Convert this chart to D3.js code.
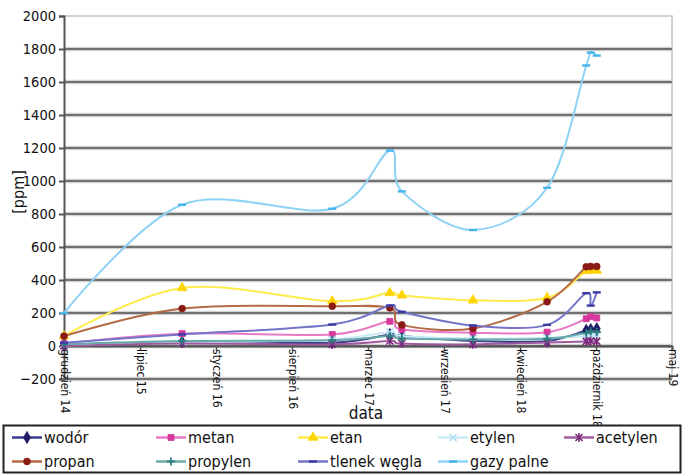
<!DOCTYPE html>
<html>
<head>
<meta charset="utf-8">
<script src="https://cdn.jsdelivr.net/npm/d3@7"></script>
<style>
  html, body { margin: 0; padding: 0; background: #fff; }
  svg { display: block; }
  text { font-family: "DejaVu Sans", sans-serif; font-stretch: condensed; fill: #111; }
</style>
</head>
<body>
<svg id="chart" width="684" height="475"></svg>
<script>
// Measurement dates (gas-in-oil analysis)
const dates = ["2014-12-14", "2015-10-24", "2016-11-26", "2017-04-28", "2017-05-30",
               "2017-12-05", "2018-06-20", "2018-10-02", "2018-10-14", "2018-10-30"];

// Concentrations in ppm, one value per date
const wodor       = [5, 25, 20, 70, 60, 30, 30, 95, 100, 105];
const metan       = [15, 75, 70, 150, 100, 80, 84, 165, 178, 170];
const etan        = [60, 352, 271, 322, 307, 277, 292, 455, 460, 458];
const etylen      = [5, 20, 40, 85, 60, 45, 50, 60, 65, 60];
const acetylen    = [0, 15, 10, 30, 15, 10, 21, 28, 30, 28];
const propan      = [60, 227, 241, 231, 128, 106, 268, 480, 482, 482];
const propylen    = [10, 30, 35, 60, 45, 40, 44, 80, 90, 85];
const tlenekWegla = [20, 70, 130, 245, 207, 124, 128, 320, 245, 325];
const gazyPalne   = [200, 856, 832, 1185, 937, 703, 959, 1700, 1778, 1760];

// Axis ticks
const yTicks = [-200, 0, 200, 400, 600, 800, 1000, 1200, 1400, 1600, 1800, 2000];
const xTickDates = ["2014-12-14", "2015-07-04", "2016-01-22", "2016-08-11", "2017-03-01",
                    "2017-09-19", "2018-04-09", "2018-10-28", "2019-05-18"];
const xTickLabels = ["grudzień 14", "lipiec 15", "styczeń 16", "sierpień 16", "marzec 17",
                     "wrzesień 17", "kwiecień 18", "październik 18", "maj 19"];

const seriesNames = ["wodór", "metan", "etan", "etylen", "acetylen",
                     "propan", "propylen", "tlenek węgla", "gazy palne"];
const seriesValues = [wodor, metan, etan, etylen, acetylen, propan, propylen, tlenekWegla, gazyPalne];

const parse = d3.timeParse("%Y-%m-%d");

const styles = {
  "wodór":        { line: "#3a3c8c", mark: "#1d1a66", shape: "diamond" },
  "metan":        { line: "#e879c4", mark: "#d6389c", shape: "square" },
  "etan":         { line: "#ffea4a", mark: "#ffd400", shape: "triangle" },
  "etylen":       { line: "#c9eaf7", mark: "#a9dcf0", shape: "x" },
  "acetylen":     { line: "#a05aa0", mark: "#7b2a7b", shape: "star" },
  "propan":       { line: "#b36a45", mark: "#8a1a14", shape: "circle" },
  "propylen":     { line: "#6aa9a9", mark: "#2b7d80", shape: "plus" },
  "tlenek węgla": { line: "#7474c8", mark: "#3b3ba4", shape: "dash" },
  "gazy palne":   { line: "#8ed2f6", mark: "#45b5ec", shape: "dash" }
};

const svg = d3.select("#chart");
const plotLeft = 64, plotRight = 672, plotTop = 16, plotBottom = 379;

const x = d3.scaleTime()
  .domain([parse(xTickDates[0]), parse(xTickDates[xTickDates.length - 1])])
  .range([plotLeft, plotRight]);
const y = d3.scaleLinear().domain([-200, 2000]).range([plotBottom, plotTop]);

// Plot-area frame (light) on top and right
svg.append("path")
  .attr("d", `M${plotLeft},${plotTop}H${plotRight}V${plotBottom}`)
  .attr("fill", "none").attr("stroke", "#c4c4c4").attr("stroke-width", 1.5);

// Horizontal gridlines: soft halo under a dark core
const gridVals = yTicks.filter(v => v !== 2000);
const grid = svg.append("g");
grid.selectAll("line.halo").data(gridVals).join("line")
  .attr("class", "halo")
  .attr("x1", plotLeft).attr("x2", plotRight)
  .attr("y1", d => y(d)).attr("y2", d => y(d))
  .attr("stroke", "#d2d2d2").attr("stroke-width", 4.5);
grid.selectAll("line.core").data(gridVals).join("line")
  .attr("class", "core")
  .attr("x1", plotLeft).attr("x2", plotRight)
  .attr("y1", d => y(d)).attr("y2", d => y(d))
  .attr("stroke", "#707070").attr("stroke-width", 2);

const fontFam = "DejaVu Sans, sans-serif";

// Y axis
const yAxis = svg.append("g").attr("transform", `translate(${plotLeft},0)`)
  .call(d3.axisLeft(y).tickValues(yTicks).tickSize(5).tickPadding(3).tickFormat(d3.format("d")));
yAxis.select(".domain").attr("stroke", "#555").attr("stroke-width", 2);
yAxis.selectAll(".tick line").attr("stroke", "#555").attr("stroke-width", 2);
yAxis.selectAll(".tick text").attr("font-size", 14.5).attr("fill", "#111")
  .attr("font-family", fontFam).style("font-stretch", "condensed");

// X axis sitting on the zero line
const xAxis = svg.append("g").attr("transform", `translate(0,${y(0)})`)
  .call(d3.axisBottom(x).tickValues(xTickDates.map(parse)).tickSize(5)
    .tickFormat((d, i) => xTickLabels[i]));
xAxis.select(".domain").attr("stroke", "#555").attr("stroke-width", 2);
xAxis.selectAll(".tick line").attr("stroke", "#555").attr("stroke-width", 1.5);
xAxis.selectAll(".tick text")
  .attr("font-size", 12).attr("fill", "#111")
  .attr("font-family", fontFam).style("font-stretch", "condensed")
  .attr("text-anchor", "start")
  .attr("dy", null).attr("y", null)
  .attr("dominant-baseline", "central")
  .attr("transform", "translate(0,3) rotate(90)");

// Axis titles
svg.append("text").attr("x", 366).attr("y", 419).attr("text-anchor", "middle")
  .attr("font-size", 17).text("data");
svg.append("text").attr("transform", "translate(24,192) rotate(-90)")
  .attr("text-anchor", "middle").attr("font-size", 16).text("[ppm]");

// Marker drawing
function drawMarker(g, shape, color) {
  const sym = { diamond: d3.symbolDiamond, square: d3.symbolSquare,
                triangle: d3.symbolTriangle, circle: d3.symbolCircle };
  if (sym[shape]) {
    const size = shape === "diamond" ? 42 : shape === "triangle" ? 40 : 36;
    g.append("path").attr("d", d3.symbol(sym[shape], size)())
      .attr("fill", color).attr("stroke", color).attr("stroke-width", 0.8);
  } else if (shape === "x") {
    g.append("path").attr("d", "M-3.5,-3.5L3.5,3.5M-3.5,3.5L3.5,-3.5")
      .attr("stroke", color).attr("stroke-width", 1.5);
  } else if (shape === "star") {
    g.append("path").attr("d", "M-3.5,-3.5L3.5,3.5M-3.5,3.5L3.5,-3.5M0,-4.5V4.5")
      .attr("stroke", color).attr("stroke-width", 1.6);
  } else if (shape === "plus") {
    g.append("path").attr("d", "M-4,0H4M0,-4V4")
      .attr("stroke", color).attr("stroke-width", 1.8);
  } else if (shape === "dash") {
    g.append("path").attr("d", "M-4,0H4")
      .attr("stroke", color).attr("stroke-width", 2.4);
  }
}

// Series lines (smoothed) and markers
const line = d3.line()
  .x((d, i) => x(parse(dates[i])))
  .y(d => y(d))
  .curve(d3.curveCardinal.tension(0));

const plot = svg.append("g");
seriesNames.forEach((name, k) => {
  const st = styles[name];
  const vals = seriesValues[k];
  const g = plot.append("g");
  g.append("path").datum(vals).attr("d", line)
    .attr("fill", "none").attr("stroke", st.line).attr("stroke-width", 2)
    .attr("stroke-linejoin", "round");
  vals.forEach((v, i) => {
    const m = g.append("g").attr("transform", `translate(${x(parse(dates[i]))},${y(v)})`);
    drawMarker(m, st.shape, st.mark);
  });
});

// Legend
svg.append("rect").attr("x", 3.5).attr("y", 425.5).attr("width", 677).attr("height", 47)
  .attr("fill", "#fff").attr("stroke", "#222").attr("stroke-width", 2);
const legCols = [12, 156, 298, 438, 564];
const legRows = [437.5, 461.5];
seriesNames.forEach((name, k) => {
  const st = styles[name];
  const cx = legCols[k % 5], cy = legRows[Math.floor(k / 5)];
  const g = svg.append("g");
  g.append("line").attr("x1", cx).attr("x2", cx + 30).attr("y1", cy).attr("y2", cy)
    .attr("stroke", st.line).attr("stroke-width", 2.5);
  drawMarker(g.append("g").attr("transform", `translate(${cx + 15},${cy})`), st.shape, st.mark);
  g.append("text").attr("x", cx + 32).attr("y", cy).attr("dominant-baseline", "central")
    .attr("font-size", 16).text(name);
});
</script>
</body>
</html>
